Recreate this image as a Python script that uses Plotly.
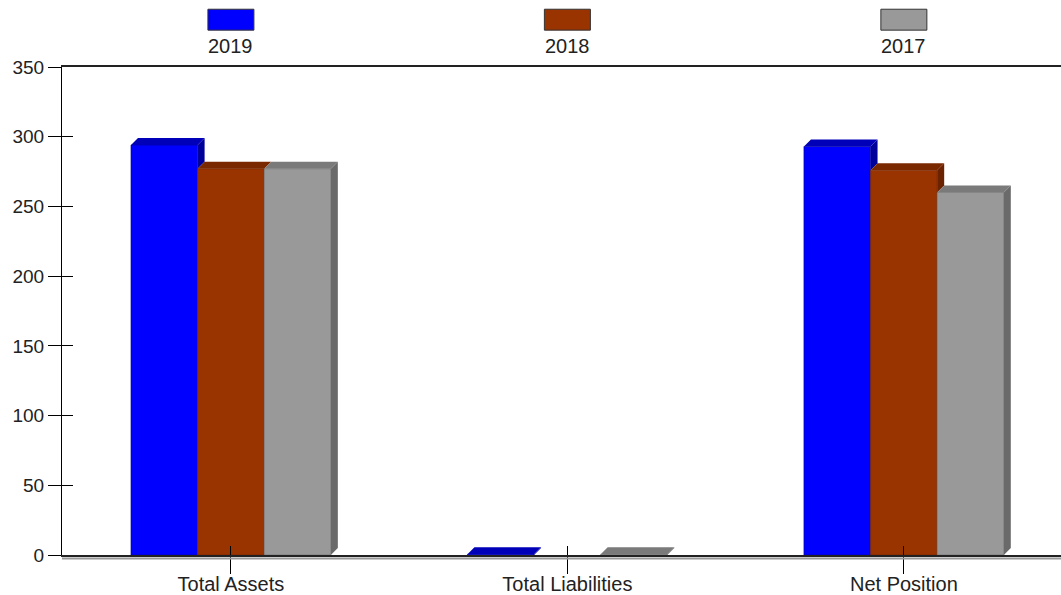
import plotly.graph_objects as go

categories = ["Total Assets", "Total Liabilities", "Net Position"]
years = ["2019", "2018", "2017"]
values_2019 = [294, 0.5, 293]
values_2018 = [277, None, 276]
values_2017 = [277, 0.5, 260]
y_ticks = [0, 50, 100, 150, 200, 250, 300, 350]

series = [values_2019, values_2018, values_2017]
front_colors = ["#0000FF", "#993300", "#999999"]
top_colors = ["#0000B8", "#7A2800", "#7A7A7A"]
side_colors = ["#00009A", "#6B2200", "#6A6A6A"]

FONT = "Liberation Sans, Arial, sans-serif"
TXT = "#222222"
idx = list(range(len(categories)))

bargap = 0.406
bw = (1 - bargap) / len(series)
dx = 0.0208   # depth offset in x units (~7px)
dy = 5.0      # depth offset in y units (~7px)

fig = go.Figure()

# front faces as bars
for s, (name, vals) in enumerate(zip(years, series)):
    fig.add_trace(go.Bar(
        x=idx, y=vals, name=name, marker=dict(color=front_colors[s], line=dict(width=0.6, color=side_colors[s])),
        showlegend=False, hoverinfo="skip",
    ))

# depth faces (top + side) computed from the data
for s, vals in enumerate(series):
    for c, v in enumerate(vals):
        if v is None:
            continue
        center = c + (s - (len(series) - 1) / 2) * bw
        x0, x1 = center - bw / 2, center + bw / 2
        bottom = 0
        if s + 1 < len(series):
            nv = series[s + 1][c]
            if nv is not None:
                bottom = min(nv, v)
        if v - bottom > 0.01:
            fig.add_trace(go.Scatter(
                x=[x1, x1, x1 + dx, x1 + dx, x1], y=[bottom, v, v + dy, bottom + dy, bottom],
                fill="toself", fillcolor=side_colors[s], mode="lines", line=dict(width=0, color=side_colors[s]),
                showlegend=False, hoverinfo="skip",
            ))
        fig.add_trace(go.Scatter(
            x=[x0, x1, x1 + dx, x0 + dx, x0], y=[v, v, v + dy, v + dy, v],
            fill="toself", fillcolor=top_colors[s], mode="lines", line=dict(width=0, color=top_colors[s]),
            showlegend=False, hoverinfo="skip",
        ))

# invisible trace for overlay axes (ticks crossing the axis lines)
fig.add_trace(go.Scatter(x=idx, y=[0] * len(idx), xaxis="x2", yaxis="y2", mode="markers",
                         marker=dict(opacity=0), showlegend=False, hoverinfo="skip"))

xr = [-0.502, 2.467]
fig.update_layout(
    width=1061, height=595,
    margin=dict(l=62, r=0, t=67, b=37),
    paper_bgcolor="white", plot_bgcolor="white",
    barmode="group", bargap=bargap, bargroupgap=0,
    font=dict(family=FONT, size=19, color=TXT),
    showlegend=False,
    xaxis=dict(range=xr, tickvals=idx, ticktext=categories, ticks="outside", ticklen=17, tickcolor="#000",
               tickwidth=1, showgrid=False, zeroline=False, showline=True, linecolor="#222", linewidth=1.5,
               mirror=True, ticklabelstandoff=-7, tickfont=dict(size=20, family=FONT, color=TXT)),
    yaxis=dict(range=[0, 350], tickvals=y_ticks, ticks="outside", ticklen=13, tickcolor="#000",
               showgrid=False, zeroline=False, showline=True, linecolor="#000", linewidth=1.2,
               tickfont=dict(size=19, family=FONT, color=TXT)),
    xaxis2=dict(overlaying="x", matches="x", anchor="y", side="bottom", tickvals=idx, ticks="inside",
                ticklen=9, tickcolor="#000", showticklabels=False, showline=False, showgrid=False, zeroline=False),
    yaxis2=dict(overlaying="y", matches="y", anchor="x", side="left", tickvals=y_ticks, ticks="inside",
                ticklen=11, tickcolor="#000", showticklabels=False, showline=False, showgrid=False, zeroline=False),
)

# shadow under the baseline
fig.add_shape(type="line", xref="paper", yref="paper", x0=0.0, x1=1, y0=-0.007, y1=-0.007,
              line=dict(color="#999999", width=2))

# custom legend: swatch above label, centred over each category
sw = 0.1367
for s, name in enumerate(years):
    fig.add_shape(type="rect", xref="x", yref="paper", x0=idx[s] - sw / 2, x1=idx[s] + sw / 2,
                  y0=1.0755, y1=1.1184, fillcolor=front_colors[s], line=dict(color="#333333", width=1))
    fig.add_annotation(x=idx[s], y=1.043, xref="x", yref="paper", text=name, showarrow=False,
                       font=dict(size=20, family=FONT, color=TXT), yanchor="middle")

fig.write_html("out.html", config={"displayModeBar": False},
               post_script="document.body.style.margin='0';document.body.style.overflow='hidden';")
